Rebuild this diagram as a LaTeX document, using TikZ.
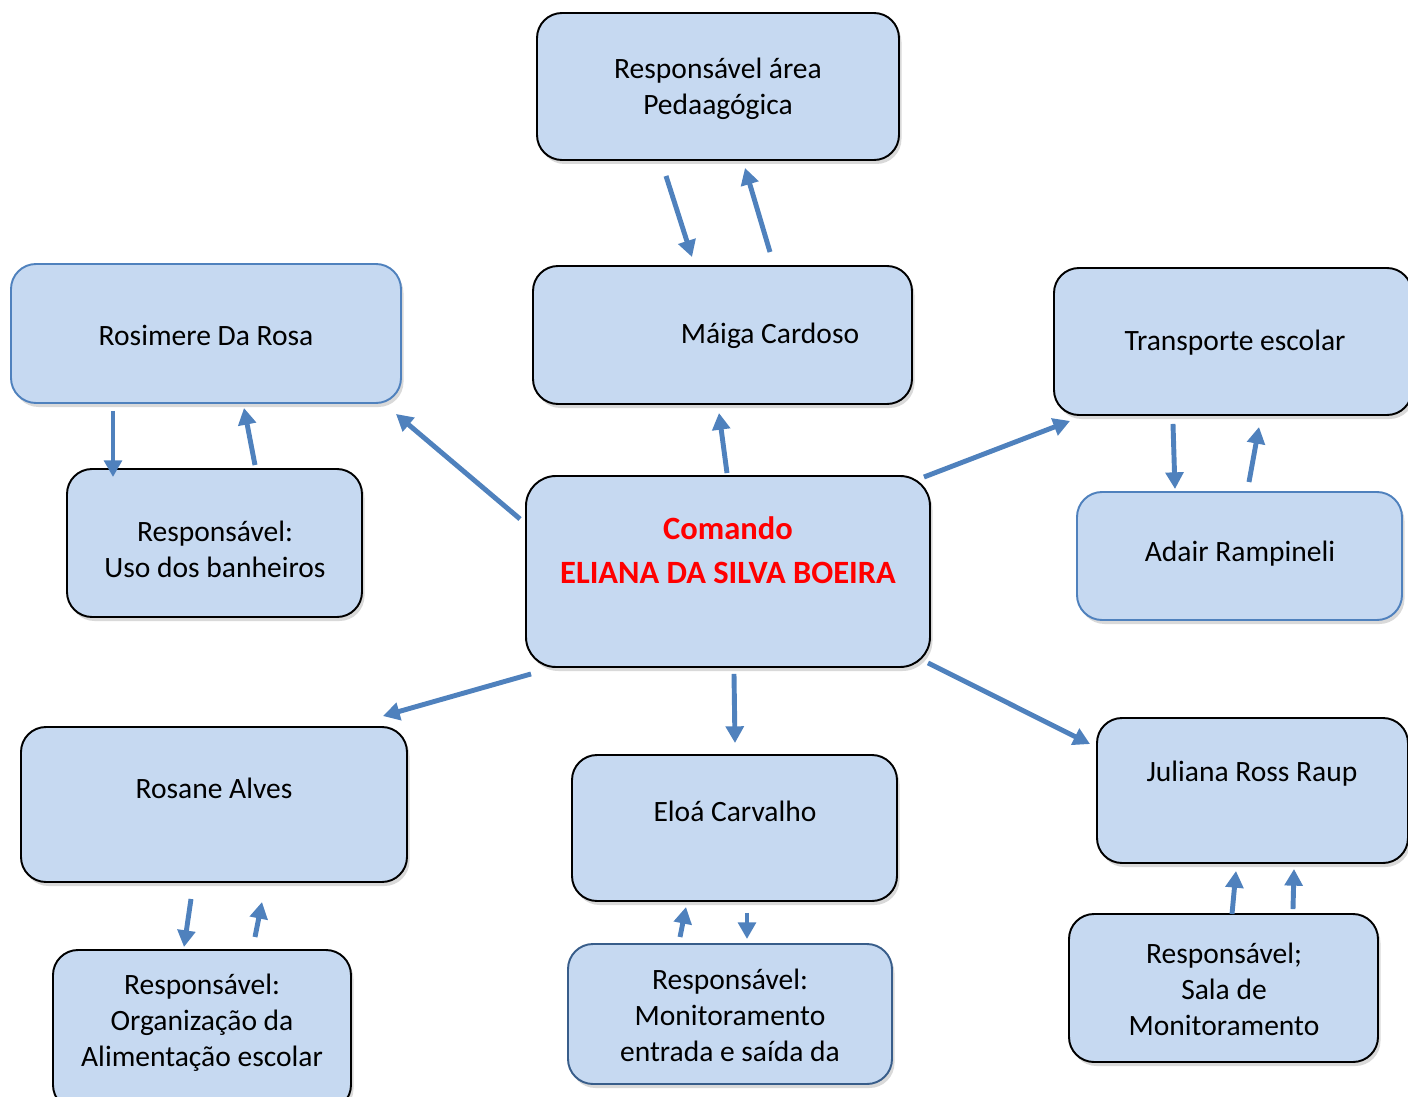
\documentclass[tikz,border=0pt]{standalone}
\usepackage{fontspec}
\setmainfont{Carlito}
\usepackage{tikz}
\usetikzlibrary{arrows.meta, positioning, shadows, calc}
\definecolor{boxfill}{RGB}{198,217,241}
\definecolor{linkblue}{RGB}{79,129,189}
\definecolor{edgeblue}{RGB}{56,93,138}
\tikzset{%
	box/.style={draw, line width=1.1pt, rounded corners=0.5cm, fill=boxfill, inner sep=0mm,%
		drop shadow={opacity=0.3, shadow xshift=0.05cm, shadow yshift=-0.08cm}},
	boxb/.style={box, draw=linkblue},
	txt/.style={align=center, inner sep=0mm, font=\fontsize{16.8}{20.5}\selectfont},
	boss/.style={txt, text=red, font=\fontsize{18.5}{20.5}\selectfont\bfseries},
	link/.style={draw=linkblue, line width=2.8pt, -{Triangle[length=9.5pt,width=10pt]}}
}
\begin{document}
\begin{tikzpicture}
	\useasboundingbox (0,0) rectangle (28.16,-21.94);

	% boxes
	\node[box, minimum width=7.24cm, minimum height=2.94cm] (ped) at (14.36,-1.73) {};
	\node[box, minimum width=7.58cm, minimum height=2.76cm] (mai) at (14.45,-6.70) {};
	\node[boxb, minimum width=7.80cm, minimum height=2.78cm] (ros) at (4.12,-6.67) {};
	\node[box, minimum width=5.90cm, minimum height=2.96cm] (ban) at (4.29,-10.86) {};
	\node[box, minimum width=8.08cm, minimum height=3.82cm, rounded corners=0.6cm] (com) at (14.56,-11.43) {};
	\node[box, minimum width=7.16cm, minimum height=2.94cm] (tra) at (24.66,-6.83) {};
	\node[boxb, minimum width=6.50cm, minimum height=2.56cm] (ada) at (24.79,-11.12) {};
	\node[box, minimum width=7.72cm, minimum height=3.10cm] (rsn) at (4.28,-16.09) {};
	\node[box, minimum width=6.50cm, minimum height=2.92cm] (elo) at (14.69,-16.56) {};
	\node[boxb, draw=edgeblue, minimum width=6.48cm, minimum height=2.80cm] (mon) at (14.60,-20.28) {};
	\node[box, minimum width=6.22cm, minimum height=2.90cm] (jul) at (25.05,-15.81) {};
	\node[box, minimum width=6.18cm, minimum height=2.96cm] (sal) at (24.47,-19.76) {};
	\node[box, minimum width=5.96cm, minimum height=3.20cm] (ali) at (4.04,-20.60) {};

	% texts
	\node[txt] (ped-t) at (14.36,-1.78) {Responsável área\\Pedaagógica};
	\node[txt] (mai-t) at (15.40,-6.72) {Máiga Cardoso};
	\node[txt] (ros-t) at (4.12,-6.70) {Rosimere Da Rosa};
	\node[txt] (ban-t) at (4.30,-10.98) {Responsável:\\Uso dos banheiros};
	\node[boss] (com-t) at (14.56,-11.00) {Comando\\[4.5pt]ELIANA DA SILVA BOEIRA};
	\node[txt] (tra-t) at (24.70,-6.86) {Transporte escolar};
	\node[txt] (ada-t) at (24.80,-11.08) {Adair Rampineli};
	\node[txt] (rsn-t) at (4.28,-15.76) {Rosane Alves};
	\node[txt] (elo-t) at (14.70,-16.22) {Eloá Carvalho};
	\node[txt] (mon-t) at (14.60,-20.31) {Responsável:\\Monitoramento\\entrada e saída da};
	\node[txt] (jul-t) at (25.04,-15.48) {Juliana Ross Raup};
	\node[txt] (sal-t) at (24.48,-19.79) {Responsável;\\Sala de\\Monitoramento};
	\node[txt] (ali-t) at (4.04,-20.46) {Responsável:\\Organização da\\Alimentação escolar};

	% connectors
	\draw[link] ([shift={(-1.04,-0.30)}]ped.south) -- ([shift={(-0.61,0.16)}]mai.north);
	\draw[link] ([shift={(0.95,0.26)}]mai.north) -- ([shift={(0.54,-0.14)}]ped.south);
	\draw[link] ([shift={(-0.02,0.04)}]com.north) -- ([shift={(-0.07,-0.16)}]mai.south);
	\draw[link] ([shift={(-0.10,1.05)}]com.west) -- ([shift={(-0.12,-0.20)}]ros.south east);
	\draw[link] ([shift={(-1.86,-0.14)}]ros.south) -- ([shift={(-2.03,-0.18)}]ban.north);
	\draw[link] ([shift={(0.81,0.06)}]ban.north) -- ([shift={(0.76,-0.08)}]ros.south);
	\draw[link] ([shift={(-0.14,-0.04)}]com.north east) -- ([shift={(0.34,-0.10)}]tra.south west);
	\draw[link] ([shift={(-1.20,-0.16)}]tra.south) -- ([shift={(-1.29,0.04)}]ada.north);
	\draw[link] ([shift={(0.19,0.18)}]ada.north) -- ([shift={(0.52,-0.22)}]tra.south);
	\draw[link] ([shift={(0.12,-0.12)}]com.south west) -- ([shift={(-0.50,0.20)}]rsn.north east);
	\draw[link] ([shift={(0.12,-0.12)}]com.south) -- ([shift={(0.01,0.22)}]elo.north);
	\draw[link] ([shift={(-0.06,0.10)}]com.south east) -- ([shift={(-0.12,-0.54)}]jul.north west);
	\draw[link] ([shift={(-0.46,-0.32)}]rsn.south) -- ([shift={(-0.36,0.04)}]ali.north);
	\draw[link] ([shift={(1.06,0.24)}]ali.north) -- ([shift={(0.96,-0.38)}]rsn.south);
	\draw[link] ([shift={(-1.00,0.12)}]mon.north) -- ([shift={(-0.97,-0.10)}]elo.south);
	\draw[link] ([shift={(0.25,-0.22)}]elo.south) -- ([shift={(0.34,0.08)}]mon.north);
	\draw[link] ([shift={(0.17,-0.02)}]sal.north) -- ([shift={(-0.33,-0.14)}]jul.south);
	\draw[link] ([shift={(1.39,0.08)}]sal.north) -- ([shift={(0.83,-0.10)}]jul.south);
\end{tikzpicture}
\end{document}
